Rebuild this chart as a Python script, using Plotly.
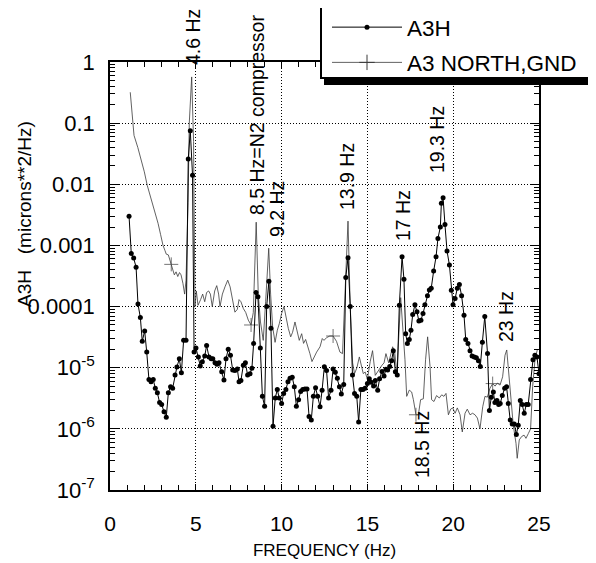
import plotly.graph_objects as go

# ---------------- data ----------------
a3h_freq = [1.11, 1.24, 1.38, 1.52, 1.63, 1.77, 1.88, 2.02, 2.14, 2.27, 2.39, 2.52, 2.64, 2.76, 2.89,
            3.01, 3.15, 3.28, 3.40, 3.53, 3.65, 3.79, 3.90, 4.04, 4.16, 4.29, 4.43, 4.56, 4.68, 4.81,
            4.90, 5.01, 5.15, 5.26, 5.38, 5.52, 5.63, 5.77, 5.90, 5.99, 6.12, 6.23, 6.35,
            6.51, 6.64, 6.76, 6.89, 7.02, 7.15, 7.28, 7.42, 7.52, 7.63, 7.77, 7.89, 8.02, 8.16, 8.27,
            8.37, 8.51, 8.62, 8.76, 8.88, 9.01, 9.13, 9.26, 9.38, 9.50, 9.63, 9.75, 9.86, 10.00,
            10.12, 10.25, 10.37, 10.49, 10.62, 10.74, 10.86, 10.99, 11.11, 11.23, 11.36, 11.48,
            11.60, 11.73, 11.85, 11.98, 12.10, 12.24, 12.36, 12.49, 12.62, 12.74, 12.88, 13.00,
            13.13, 13.25, 13.37, 13.48, 13.62, 13.74, 13.87, 14.00, 14.13, 14.25, 14.38, 14.49,
            14.62, 14.74, 14.86, 15.00, 15.11, 15.22, 15.36, 15.46, 15.60, 15.71, 15.85, 15.97,
            16.08, 16.18, 16.30, 16.41, 16.51, 16.63, 16.74, 16.86, 17.02, 17.13, 17.23, 17.33,
            17.44, 17.54, 17.64, 17.77, 17.89, 18.00, 18.12, 18.24, 18.35, 18.50, 18.61, 18.72,
            18.86, 19.00, 19.11, 19.25, 19.31, 19.41, 19.52, 19.64, 19.78, 19.89, 19.99, 20.11,
            20.24, 20.36, 20.49, 20.63, 20.73, 20.86, 20.98, 21.10, 21.23, 21.35, 21.47, 21.58,
            21.70, 21.84, 22.00, 22.11, 22.22, 22.34, 22.43, 22.55, 22.65, 22.74, 22.86, 23.00,
            23.11, 23.21, 23.32, 23.44, 23.56, 23.68, 23.79, 23.91, 24.02, 24.14, 24.26, 24.37,
            24.51, 24.65, 24.76, 24.88, 25.00]
a3h_psd = [3.0e-3, 7.4e-4, 6.2e-4, 4.4e-4, 1.1e-4, 6.6e-5, 2.7e-5, 4.0e-5, 1.8e-5, 6.4e-6, 5.9e-6, 6.4e-6, 4.6e-6, 3.9e-6, 2.7e-6,
           2.5e-6, 1.9e-6, 1.55e-6, 3.9e-6, 4.9e-6, 4.6e-6, 7.6e-6, 1.03e-5, 1.4e-5, 8.3e-6, 2.8e-5, 2.8e-5, 2.6e-2, 7.5e-2, 1.4e-2,
           1.8e-5, 2.1e-5, 1.5e-5, 1.07e-5, 1.25e-5, 1.55e-5, 2.3e-5, 1.5e-5, 1.4e-5, 1.4e-5, 1.2e-5, 1.14e-5, 1.2e-5,
           8.6e-6, 6.3e-6, 1.4e-5, 2.0e-5, 1.6e-5, 9.2e-6, 9.0e-6, 9.5e-6, 5.9e-6, 6.2e-6, 1.1e-5, 1.2e-5, 7.6e-6, 8.0e-6, 9.8e-6,
           2.5e-5, 1.7e-4, 1.45e-4, 2.1e-5, 3.4e-6, 2.35e-6, 1.0e-4, 2.6e-4, 4.4e-5, 1.1e-6, 3.2e-6, 4.4e-6, 3.2e-6, 2.6e-6,
           3.8e-6, 4.4e-6, 5.9e-6, 6.7e-6, 7.0e-6, 4.9e-6, 2.35e-6, 3.0e-6, 4.1e-6, 4.4e-6, 4.5e-6, 4.5e-6,
           1.6e-6, 1.4e-6, 3.4e-6, 4.7e-6, 3.4e-6, 2.3e-6, 4.3e-6, 1.04e-5, 9.0e-6, 3.2e-6, 4.3e-6, 9.5e-6,
           8.4e-6, 6.7e-6, 4.9e-6, 3.7e-6, 5.3e-6, 3.0e-4, 6.3e-4, 1.0e-4, 7.6e-6, 3.8e-6, 3.4e-6, 1.3e-6,
           4.4e-6, 4.4e-6, 4.6e-6, 5.5e-6, 6.6e-6, 5.8e-6, 5.0e-6, 6.2e-6, 4.3e-6, 6.6e-6, 8.7e-6, 7.3e-6,
           9.4e-6, 9.2e-6, 1.05e-5, 1.3e-5, 1.9e-5, 8.6e-6, 7.6e-6, 1.05e-4, 6.5e-4, 2.8e-4, 3.6e-5, 2.5e-5,
           2.9e-5, 4.1e-5, 7.4e-5, 1.07e-4, 8.2e-5, 5.8e-5, 6.0e-5, 7.7e-5, 1.07e-4, 1.5e-4, 1.86e-4, 2.0e-4,
           3.8e-4, 6.5e-4, 1.3e-3, 2.0e-3, 4.9e-3, 6.0e-3, 2.2e-3, 8.1e-4, 4.8e-4, 1.85e-4, 1.07e-4, 1.35e-4,
           2.0e-4, 2.3e-4, 1.5e-4, 7.2e-5, 2.9e-5, 2.5e-5, 1.9e-5, 1.55e-5, 1.5e-5, 1.45e-5, 1.3e-5, 1.05e-5,
           2.6e-5, 6.9e-5, 1.7e-5, 2.0e-6, 3.3e-6, 4.0e-6, 2.7e-6, 2.9e-6, 2.5e-6, 2.6e-6, 3.5e-6, 4.6e-6,
           4.9e-6, 2.6e-6, 1.4e-6, 1.2e-6, 1.2e-6, 8.1e-7, 1.15e-6, 2.9e-6, 2.5e-6, 1.8e-6, 2.5e-6, 2.5e-6,
           6.4e-6, 1.35e-5, 1.6e-5, 1.5e-5, 8.0e-6]

gnd_freq = [1.18, 1.40, 1.62, 1.82, 2.00, 2.17, 2.33, 2.50, 2.65, 2.80, 2.95, 3.09, 3.20, 3.28, 3.40,
            3.50, 3.57, 3.66, 3.75, 3.85, 3.95, 4.05, 4.14, 4.25, 4.35, 4.43, 4.55, 4.62, 4.76, 4.87,
            4.95, 5.03, 5.13, 5.28, 5.40, 5.52, 5.63, 5.75, 5.85, 5.96, 6.10, 6.22, 6.33, 6.41, 6.55,
            6.70, 6.86, 7.00, 7.13, 7.28, 7.42, 7.52, 7.63, 7.77, 7.91, 8.06, 8.22, 8.35, 8.52, 8.64,
            8.77, 8.93, 9.07, 9.25, 9.36, 9.48, 9.62, 9.75, 9.87, 10.00, 10.14, 10.26, 10.39, 10.53,
            10.64, 10.78, 10.92, 11.03, 11.17, 11.28, 11.40, 11.54, 11.65, 11.77, 11.88, 12.04, 12.24,
            12.37, 12.47, 12.62, 12.81, 13.00, 13.20, 13.40, 13.55, 13.72, 13.87, 14.00, 14.14, 14.25,
            14.39, 14.53, 14.65, 14.76, 14.87, 15.00, 15.16, 15.30, 15.46, 15.58, 15.70, 15.85, 15.97,
            16.08, 16.24, 16.35, 16.47, 16.59, 16.72, 16.94, 17.19, 17.29, 17.44, 17.58, 17.68, 17.83,
            17.97, 18.10, 18.26, 18.39, 18.51, 18.65, 18.74, 18.88, 19.03, 19.19, 19.33, 19.46, 19.58,
            19.72, 19.85, 19.97, 20.11, 20.24, 20.40, 20.53, 20.69, 20.82, 20.98, 21.13, 21.27, 21.41,
            21.56, 21.72, 21.85, 21.99, 22.14, 22.30, 22.44, 22.57, 22.73, 22.88, 23.02, 23.12, 23.21,
            23.35, 23.50, 23.66, 23.73, 23.85, 23.99, 24.13, 24.24, 24.38, 24.51, 24.63, 24.77, 24.90]
gnd_psd = [0.32, 0.063, 0.040, 0.026, 0.016, 9.6e-3, 6.6e-3, 4.8e-3, 3.2e-3, 2.3e-3, 1.5e-3, 1.0e-3, 8.3e-4, 7.2e-4, 7.0e-4,
           5.7e-4, 4.9e-4, 4.0e-4, 3.3e-4, 3.7e-4, 3.1e-4, 3.6e-4, 3.3e-4, 2.4e-4, 1.6e-4, 2.7e-4, 5.0e-3, 0.10, 0.57, 0.05,
           1.0e-4, 1.8e-4, 1.05e-4, 1.3e-4, 1.6e-4, 1.2e-4, 1.7e-4, 1.8e-4, 1.6e-4, 1.0e-4, 1.8e-4, 2.2e-4, 1.6e-4, 1.0e-4, 1.6e-4,
           2.1e-4, 2.7e-4, 2.1e-4, 1.26e-4, 8.1e-5, 9.0e-5, 1.3e-4, 1.2e-4, 9.3e-5, 8.0e-5, 6.0e-5, 5.0e-5, 8.0e-5, 2.4e-3, 1.6e-4,
           5.6e-5, 2.8e-5, 1.2e-4, 9.0e-4, 1.6e-4, 4.6e-5, 2.6e-5, 4.1e-5, 5.3e-5, 7.7e-5, 1.0e-4, 6.3e-5, 4.4e-5, 3.2e-5,
           3.8e-5, 5.6e-5, 3.6e-5, 2.8e-5, 3.6e-5, 2.5e-5, 2.9e-5, 2.2e-5, 1.7e-5, 1.26e-5, 1.5e-5, 1.8e-5, 2.2e-5,
           3.0e-5, 2.8e-5, 3.1e-5, 3.3e-5, 3.3e-5, 2.7e-5, 1.8e-5, 1.7e-5, 2.0e-4, 2.5e-3, 1.0e-4, 1.2e-5, 8.0e-6,
           1.0e-5, 1.5e-5, 1.0e-5, 8.0e-6, 8.5e-6, 6.5e-6, 1.25e-5, 1.9e-5, 7.5e-6, 8.5e-6, 9.5e-6, 1.1e-5, 1.2e-5,
           1.7e-5, 1.2e-5, 1.6e-5, 2.2e-5, 1.8e-5, 8.0e-6, 1.4e-4, 1.35e-5, 3.4e-6, 4.3e-6, 4.0e-6, 3.0e-6, 1.7e-6,
           1.7e-6, 3.0e-6, 3.1e-6, 1.35e-5, 3.2e-5, 1.05e-5, 3.0e-6, 2.8e-6, 3.5e-6, 3.2e-6, 3.6e-6, 3.4e-6, 3.8e-6,
           1.7e-6, 2.1e-6, 2.2e-6, 1.8e-6, 2.2e-6, 1.7e-6, 8.9e-7, 1.8e-6, 2.1e-6, 1.7e-6, 1.8e-6, 1.7e-6, 1.5e-6,
           1.0e-6, 2.3e-6, 3.4e-6, 3.3e-6, 4.6e-6, 5.5e-6, 5.0e-6, 5.6e-6, 5.2e-6, 7.1e-6, 1.6e-5, 1.95e-5, 9.8e-6,
           3.0e-6, 1.15e-6, 5.8e-7, 3.3e-7, 6.6e-7, 7.5e-7, 7.9e-7, 7.0e-7, 8.4e-7, 1.0e-6, 4.9e-6, 1.4e-5, 1.95e-5]
gnd_plus_freq = [3.57, 8.22, 13.00, 17.83, 22.30]

x_tick_vals = [0, 5, 10, 15, 20, 25]
y_tick_vals = [1, 0.1, 0.01, 0.001, 0.0001, 1e-5, 1e-6, 1e-7]
y_tick_text = ["1", "0.1", "0.01", "0.001", "0.0001", "10<sup>-5</sup>", "10<sup>-6</sup>", "10<sup>-7</sup>"]

peak_texts = ["4.6 Hz", "8.5 Hz=N2 compressor", "9.2 Hz", "13.9 Hz", "17 Hz", "19.3 Hz", "23 Hz", "18.5 Hz"]

# ---------------- layout geometry (screen pixels of the photographed page) ----------------
FONT = "Liberation Sans, Arial, Helvetica, sans-serif"
PAGE_PAD = 8                      # default body margin of the html page
SCR_W, SCR_H = 596, 563
PL, PR, PT, PB = 110, 539, 62, 490   # plot box on screen
W, H = SCR_W - PAGE_PAD, SCR_H - PAGE_PAD


def xp(sx):
    return (sx - PL) / (PR - PL)


def yp(sy):
    return (PB - sy) / (PB - PT)


fig = go.Figure()

plus_sizes = [10 if f in gnd_plus_freq else 0 for f in gnd_freq]
fig.add_trace(go.Scatter(
    x=gnd_freq, y=gnd_psd, mode="lines+markers", name="A3 NORTH,GND", showlegend=False,
    line=dict(color="#3a3a3a", width=0.8),
    marker=dict(symbol="cross-thin", size=plus_sizes, color="#3a3a3a", line=dict(width=1, color="#3a3a3a")),
))
fig.add_trace(go.Scatter(
    x=a3h_freq, y=a3h_psd, mode="lines+markers", name="A3H", legendgroup="a",
    line=dict(color="black", width=1),
    marker=dict(symbol="circle", size=5, color="black"),
))
# legend entry for the second series (line with "+" symbol)
fig.add_trace(go.Scatter(
    x=[None], y=[None], mode="lines+markers", name="A3 NORTH,GND", legendgroup="b",
    line=dict(color="#3a3a3a", width=0.8),
    marker=dict(symbol="cross-thin", size=11, color="#3a3a3a", line=dict(width=1, color="#3a3a3a")),
))

# peak labels (vertical text): screen centre positions
peak_pos = [(193, 37), (257, 115), (277, 209), (347, 177), (403, 216), (437, 140), (506, 317), (422, 445)]
for txt, (sx, sy) in zip(peak_texts, peak_pos):
    fig.add_annotation(x=xp(sx), y=yp(sy), xref="paper", yref="paper", text=txt, showarrow=False,
                       textangle=-90, xanchor="center", yanchor="middle",
                       font=dict(family=FONT, size=19.5, color="black"))

# y-axis title
fig.add_annotation(x=xp(24), y=yp(214), xref="paper", yref="paper",
                   text="A3H\u00a0\u00a0\u00a0(microns**2/Hz)", showarrow=False, textangle=-90,
                   xanchor="center", yanchor="middle", font=dict(family=FONT, size=19, color="black"))

# legend frame: drop shadow, then white box with black border (legend items are drawn on top)
fig.add_shape(type="rect", xref="paper", yref="paper", layer="above",
              x0=xp(324), x1=xp(596), y0=yp(85), y1=yp(11),
              fillcolor="black", line=dict(width=0))
fig.add_shape(type="rect", xref="paper", yref="paper", layer="above",
              x0=xp(321), x1=xp(591), y0=yp(78), y1=yp(6),
              fillcolor="white", line=dict(width=2, color="black"))

minor_y = [k * 10.0 ** d for d in range(-7, 0) for k in range(2, 10)]

fig.update_xaxes(
    range=[0, 25], tickvals=x_tick_vals, ticks="inside", ticklen=6, tickwidth=1, tickcolor="black",
    showline=True, linecolor="black", linewidth=1.5, mirror="ticks",
    showgrid=True, gridcolor="black", gridwidth=1, griddash="1px,2px", zeroline=False,
    minor=dict(dtick=1, ticks="inside", ticklen=5, tickcolor="black", showgrid=False),
    tickfont=dict(family=FONT, size=21, color="black"), ticklabelstandoff=14,
    title=dict(text="FREQUENCY (Hz)", font=dict(family=FONT, size=17, color="black"), standoff=10),
)
fig.update_yaxes(
    type="log", range=[-7, 0], tickmode="array", tickvals=y_tick_vals, ticktext=y_tick_text,
    ticks="inside", ticklen=9, tickwidth=1, tickcolor="black",
    showline=True, linecolor="black", linewidth=1.5, mirror="ticks",
    showgrid=True, gridcolor="black", gridwidth=1, griddash="1px,2px", zeroline=False,
    minor=dict(tickmode="array", tickvals=minor_y, ticks="inside", ticklen=5, tickcolor="black", showgrid=False),
    tickfont=dict(family=FONT, size=22, color="black"), ticklabelstandoff=9,
)

fig.update_layout(
    width=W, height=H,
    margin=dict(l=PL - PAGE_PAD, r=SCR_W - PR, t=PT - PAGE_PAD, b=SCR_H - PB, autoexpand=False),
    paper_bgcolor="white", plot_bgcolor="white",
    font=dict(family=FONT, color="black"),
    showlegend=True,
    legend=dict(x=xp(327), y=yp(6), xanchor="left", yanchor="top",
                bgcolor="rgba(0,0,0,0)", borderwidth=0,
                font=dict(family=FONT, size=22.5, color="black"),
                traceorder="grouped", tracegroupgap=3, itemwidth=70),
)

fig.write_html("out.html")
